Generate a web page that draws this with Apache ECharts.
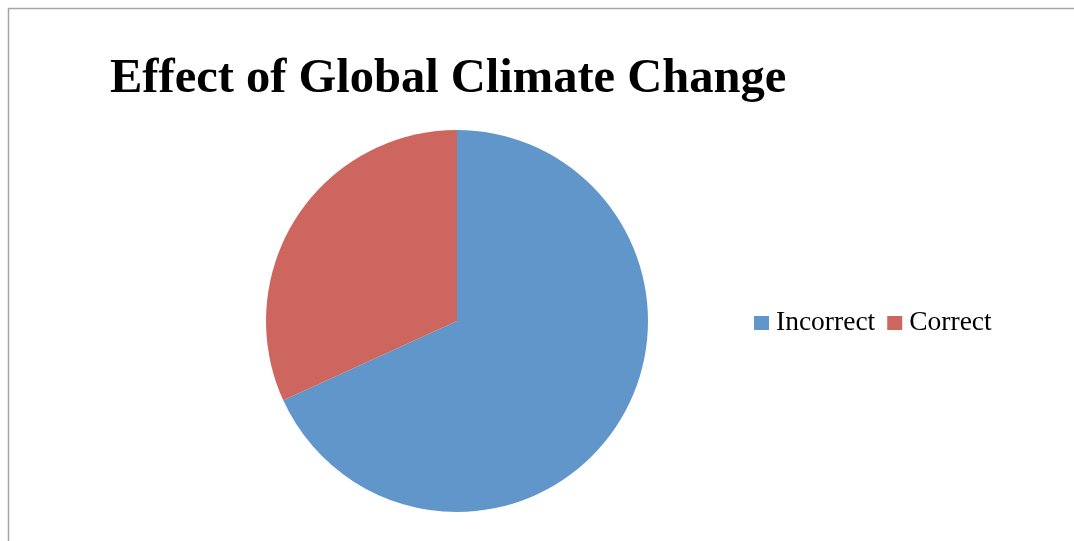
<!DOCTYPE html>
<html>
<head>
<meta charset="utf-8">
<style>
  html, body { margin: 0; padding: 0; background: #ffffff; }
  #chart { width: 1074px; height: 541px; }
</style>
<script src="https://cdn.jsdelivr.net/npm/echarts@6/dist/echarts.min.js"></script>
</head>
<body>
<div id="chart"></div>
<script>
// Responses grouped by answer
const categories = ['Incorrect', 'Correct'];
const counts = [15, 7];
const colors = ['#6196CA', '#CC665E'];

const chart = echarts.init(document.getElementById('chart'), null, { renderer: 'canvas' });

const pieData = categories.map((name, i) => ({
  name: name,
  value: counts[i],
  itemStyle: { color: colors[i] }
}));

chart.setOption({
  backgroundColor: '#ffffff',
  animation: false,
  title: {
    text: 'Effect of Global Climate Change',
    left: 105,
    top: 50,
    textStyle: {
      fontFamily: 'Liberation Serif',
      fontWeight: 'bold',
      fontSize: 48.5,
      color: '#000000'
    }
  },
  legend: {
    orient: 'horizontal',
    left: 749,
    top: 304,
    icon: 'rect',
    itemWidth: 15,
    itemHeight: 14,
    itemGap: 12,
    data: categories,
    textStyle: {
      fontFamily: 'Liberation Serif',
      fontSize: 27.5,
      color: '#000000',
      padding: [0, 0, 0, 2]
    }
  },
  graphic: [
    {
      type: 'polyline',
      shape: { points: [[8.5, 541], [8.5, 8.5], [1074, 8.5]] },
      style: { stroke: '#a6a6a6', lineWidth: 1.5, fill: null },
      silent: true
    }
  ],
  series: [
    {
      type: 'pie',
      center: [457, 321],
      radius: 191,
      startAngle: 90,
      clockwise: true,
      label: { show: false },
      labelLine: { show: false },
      itemStyle: { borderWidth: 0 },
      emphasis: { disabled: true },
      data: pieData
    }
  ]
});
</script>
</body>
</html>
